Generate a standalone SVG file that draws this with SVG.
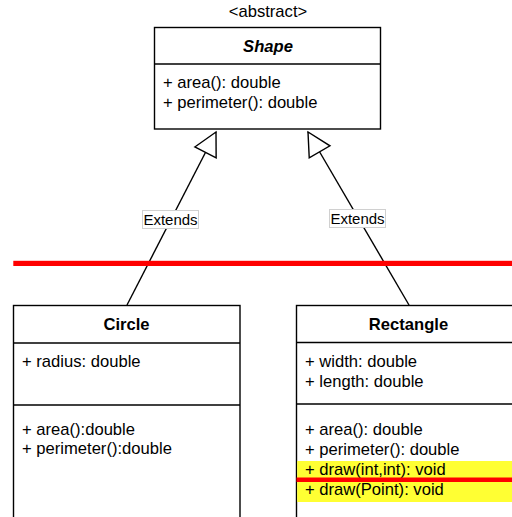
<svg xmlns="http://www.w3.org/2000/svg" width="512" height="517" viewBox="0 0 512 517">
  <style>
    text { font-family: "Liberation Sans", Arial, sans-serif; fill: #000; }
    .box { fill: #fff; stroke: #000; stroke-width: 1.4; }
    .div { stroke: #000; stroke-width: 1.4; fill: none; }
    .member { font-size: 16.6px; }
    .title { font-size: 16.6px; font-weight: bold; text-anchor: middle; }
    .edge { stroke: #000; stroke-width: 1.4; fill: none; marker-end: url(#hollowTri); }
    .lblbox { fill: #fff; stroke: #d0d0d0; stroke-width: 1; }
    .lbl { font-size: 15px; text-anchor: middle; }
    .redbar { fill: #ff0000; }
  </style>
  <defs>
    <!-- UML generalization arrowhead: hollow triangle -->
    <marker id="hollowTri" viewBox="-2 -2 27 28" refX="23" refY="12" markerWidth="27" markerHeight="28" markerUnits="userSpaceOnUse" orient="auto" overflow="visible">
      <path d="M0,0 L23,12 L0,24 Z" fill="#fff" stroke="#000" stroke-width="1.4" stroke-linejoin="miter"/>
    </marker>
  </defs>

  <rect width="512" height="517" fill="#fff"/>

  <!-- Abstract base class -->
  <g id="shape">
    <text x="268" y="17" class="member" text-anchor="middle">&lt;abstract&gt;</text>
    <rect class="box" x="154.5" y="27.5" width="226" height="101.5"/>
    <line class="div" x1="154.5" y1="64" x2="380.5" y2="64"/>
    <text x="268" y="52" class="title" font-style="italic">Shape</text>
    <text x="163" y="88" class="member">+ area(): double</text>
    <text x="163" y="108" class="member">+ perimeter(): double</text>
  </g>

  <!-- Circle subclass -->
  <g id="circle">
    <rect class="box" x="13.5" y="305.5" width="226.5" height="230"/>
    <line class="div" x1="13.5" y1="343" x2="240" y2="343"/>
    <line class="div" x1="13.5" y1="405" x2="240" y2="405"/>
    <text x="126.5" y="330" class="title">Circle</text>
    <text x="22" y="367" class="member">+ radius: double</text>
    <text x="22" y="434.5" class="member">+ area():double</text>
    <text x="22" y="454" class="member">+ perimeter():double</text>
  </g>

  <!-- Rectangle subclass -->
  <g id="rectangle">
    <rect class="box" x="296.5" y="305.5" width="227" height="230"/>
    <line class="div" x1="296.5" y1="342.5" x2="523.5" y2="342.5"/>
    <line class="div" x1="296.5" y1="404" x2="523.5" y2="404"/>
    <rect x="297.2" y="461" width="216" height="41" fill="#ffff33"/>
    <text x="408.5" y="330" class="title">Rectangle</text>
    <text x="305" y="367" class="member">+ width: double</text>
    <text x="305" y="387" class="member">+ length: double</text>
    <text x="305" y="435" class="member">+ area(): double</text>
    <text x="305" y="455" class="member">+ perimeter(): double</text>
    <text x="305" y="474.5" class="member">+ draw(int,int): void</text>
    <text x="305" y="494.5" class="member">+ draw(Point): void</text>
    <rect class="redbar" x="296.5" y="477.5" width="216" height="4.5"/>
  </g>

  <!-- Generalization connectors -->
  <g id="connectors">
    <path class="edge" d="M127,305 L216,132"/>
    <path class="edge" d="M409,305 L308,132"/>
    <rect class="lblbox" x="142.5" y="210.5" width="56" height="18"/>
    <text x="170.5" y="224.5" class="lbl">Extends</text>
    <rect class="lblbox" x="329.5" y="209.5" width="56" height="18"/>
    <text x="357.5" y="223.5" class="lbl">Extends</text>
  </g>

  <!-- Horizontal red bar -->
  <rect class="redbar" x="13.3" y="260.8" width="498.7" height="5.2"/>
</svg>
